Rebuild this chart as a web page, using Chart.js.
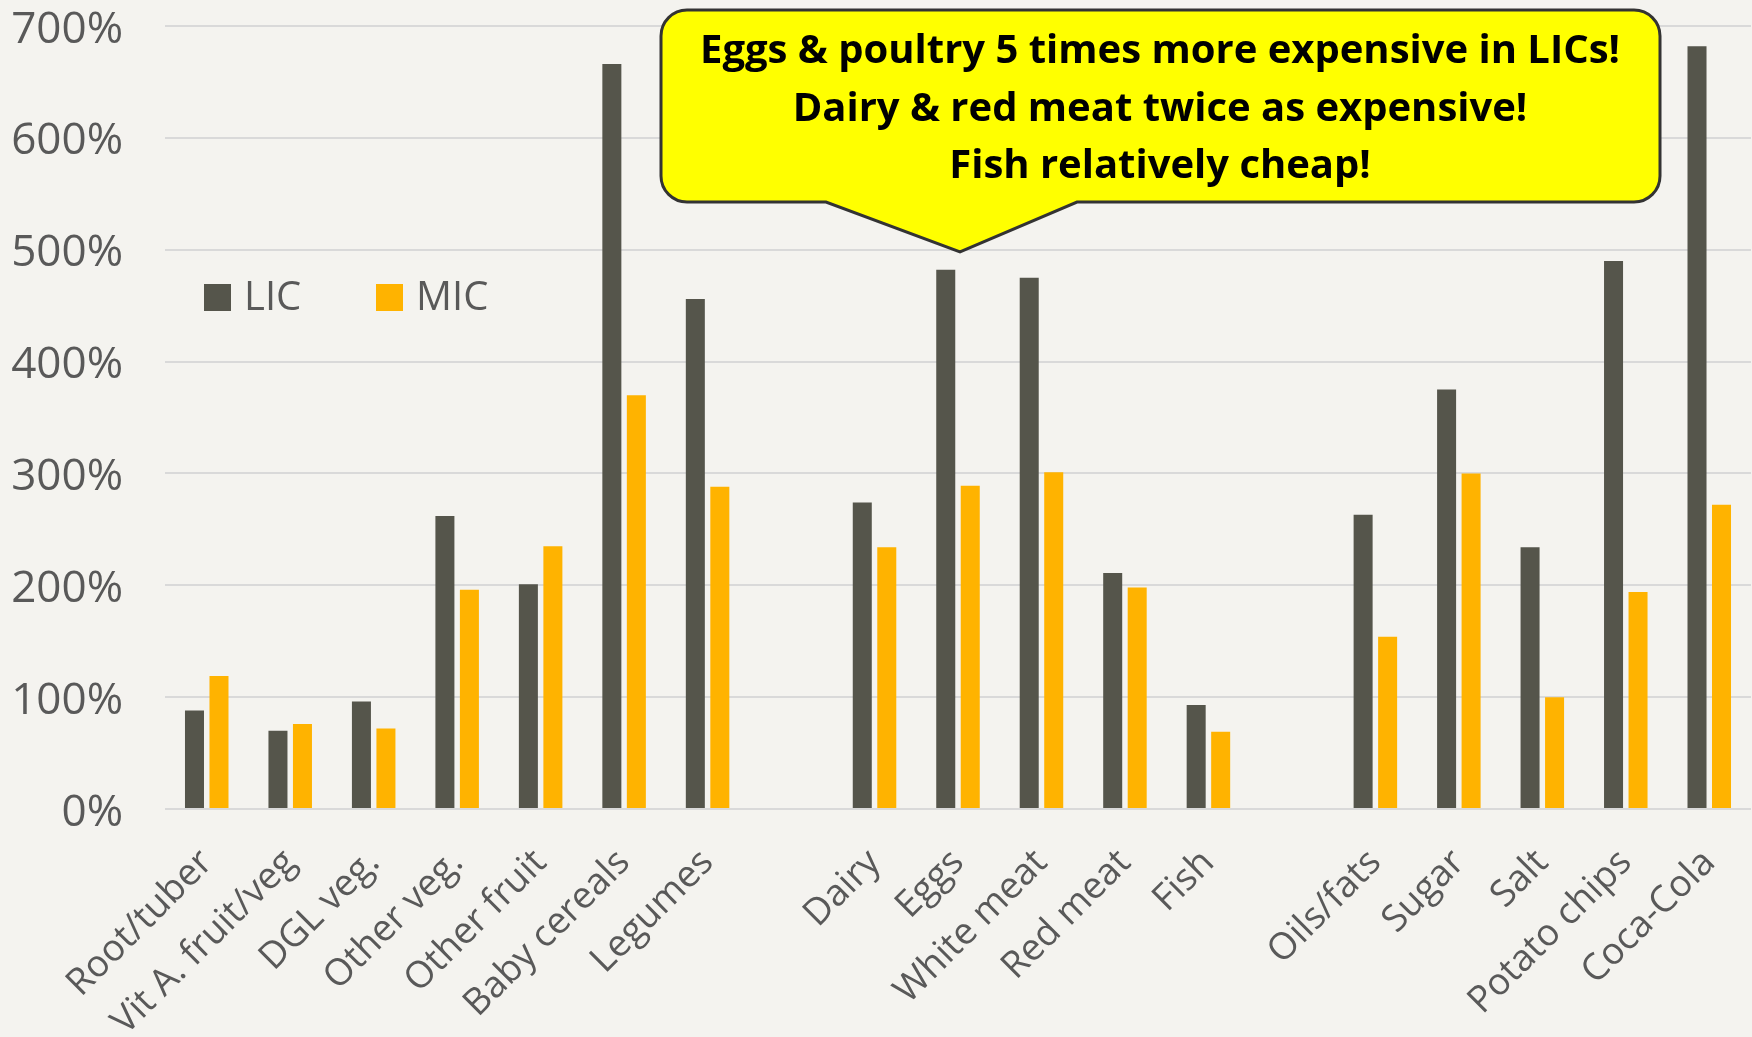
<!DOCTYPE html>
<html>
<head>
<meta charset="utf-8">
<script src="https://cdn.jsdelivr.net/npm/chart.js@4.4.0/dist/chart.umd.min.js"></script>
<style>
  html, body { margin: 0; padding: 0; background: #F4F3EF; }
  #wrap { width: 1752px; height: 1037px; }
</style>
</head>
<body>
<div id="wrap"><canvas id="priceChart" width="1752" height="1037"></canvas></div>
<script>
// food groups, empty strings leave the gaps between the three blocks
const categories = [
  'Root/tuber', 'Vit A. fruit/veg', 'DGL veg.', 'Other veg.', 'Other fruit', 'Baby cereals', 'Legumes', '',
  'Dairy', 'Eggs', 'White meat', 'Red meat', 'Fish', '',
  'Oils/fats', 'Sugar', 'Salt', 'Potato chips', 'Coca-Cola'
];
const licValues = [88, 70, 96, 262, 201, 666, 456, null, 274, 482, 475, 211, 93, null, 263, 375, 234, 490, 682];
const micValues = [119, 76, 72, 196, 235, 370, 288, null, 234, 289, 301, 198, 69, null, 154, 300, 100, 194, 272];
const seriesNames = ['LIC', 'MIC'];
const yMax = 700;
const yStep = 100;
const calloutLines = [
  'Eggs & poultry 5 times more expensive in LICs!',
  'Dairy & red meat twice as expensive!',
  'Fish relatively cheap!'
];

const LIC_COLOR = '#55554B';
const MIC_COLOR = '#FFB300';
const TEXT_GREY = '#595959';

// legend drawn inside the plot, on the left
const innerLegend = {
  id: 'innerLegend',
  afterDraw(chart) {
    const ctx = chart.ctx;
    const xs = [204, 376];
    ctx.save();
    ctx.font = '40px "Open Sans"';
    ctx.textBaseline = 'middle';
    ctx.textAlign = 'left';
    chart.data.datasets.forEach((ds, i) => {
      ctx.fillStyle = ds.backgroundColor;
      ctx.fillRect(xs[i], 284, 27, 27);
      ctx.fillStyle = TEXT_GREY;
      ctx.fillText(ds.label, xs[i] + 40, 299);
    });
    ctx.restore();
  }
};

// yellow speech bubble with the headline
const callout = {
  id: 'callout',
  afterDraw(chart) {
    const ctx = chart.ctx;
    const l = 661, t = 10, r = 1660, b = 202, rad = 26;
    ctx.save();
    ctx.beginPath();
    ctx.moveTo(l + rad, t);
    ctx.lineTo(r - rad, t);
    ctx.arcTo(r, t, r, t + rad, rad);
    ctx.lineTo(r, b - rad);
    ctx.arcTo(r, b, r - rad, b, rad);
    ctx.lineTo(1077, b);
    ctx.lineTo(960, 252);
    ctx.lineTo(826, b);
    ctx.lineTo(l + rad, b);
    ctx.arcTo(l, b, l, b - rad, rad);
    ctx.lineTo(l, t + rad);
    ctx.arcTo(l, t, l + rad, t, rad);
    ctx.closePath();
    ctx.fillStyle = '#FFFF00';
    ctx.fill();
    ctx.lineWidth = 3;
    ctx.strokeStyle = '#333333';
    ctx.stroke();

    ctx.font = 'bold 40px "Open Sans"';
    ctx.fillStyle = '#000000';
    ctx.textAlign = 'center';
    ctx.textBaseline = 'alphabetic';
    const sx = 920 / ctx.measureText(calloutLines[0]).width;
    const cx = 1160;
    calloutLines.forEach((line, i) => {
      ctx.save();
      ctx.translate(cx, 63 + i * 57.5);
      ctx.scale(sx, 1);
      ctx.fillText(line, 0, 0);
      ctx.restore();
    });
    ctx.restore();
  }
};

const ctx = document.getElementById('priceChart').getContext('2d');
new Chart(ctx, {
  type: 'bar',
  data: {
    labels: categories,
    datasets: [
      { label: seriesNames[0], data: licValues, backgroundColor: LIC_COLOR },
      { label: seriesNames[1], data: micValues, backgroundColor: MIC_COLOR }
    ]
  },
  options: {
    responsive: false,
    animation: false,
    devicePixelRatio: 1,
    layout: { padding: { left: 11, top: 26, right: 1, bottom: 0 } },
    datasets: {
      bar: { categoryPercentage: 0.587, barPercentage: 0.776 }
    },
    plugins: {
      legend: { display: false },
      tooltip: { enabled: false }
    },
    scales: {
      x: {
        grid: { display: false, drawTicks: false },
        border: { display: false },
        ticks: {
          autoSkip: false,
          minRotation: 45,
          maxRotation: 45,
          padding: 32,
          color: TEXT_GREY,
          font: { family: 'Open Sans', size: 37 }
        },
        afterFit(scale) {
          scale.height = 228;
          scale.paddingLeft = 0;
          scale.paddingRight = 0;
        }
      },
      y: {
        min: 0,
        max: yMax,
        grid: { color: '#D9D9D9', lineWidth: 2, drawTicks: false },
        border: { display: false },
        ticks: {
          stepSize: yStep,
          padding: 42,
          labelOffset: 4,
          color: TEXT_GREY,
          font: { family: 'Open Sans', size: 44 },
          callback: v => v + '%'
        },
        afterFit(scale) {
          scale.width = 154;
          scale.paddingTop = 0;
          scale.paddingBottom = 0;
        }
      }
    }
  },
  plugins: [innerLegend, callout]
});
</script>
</body>
</html>
